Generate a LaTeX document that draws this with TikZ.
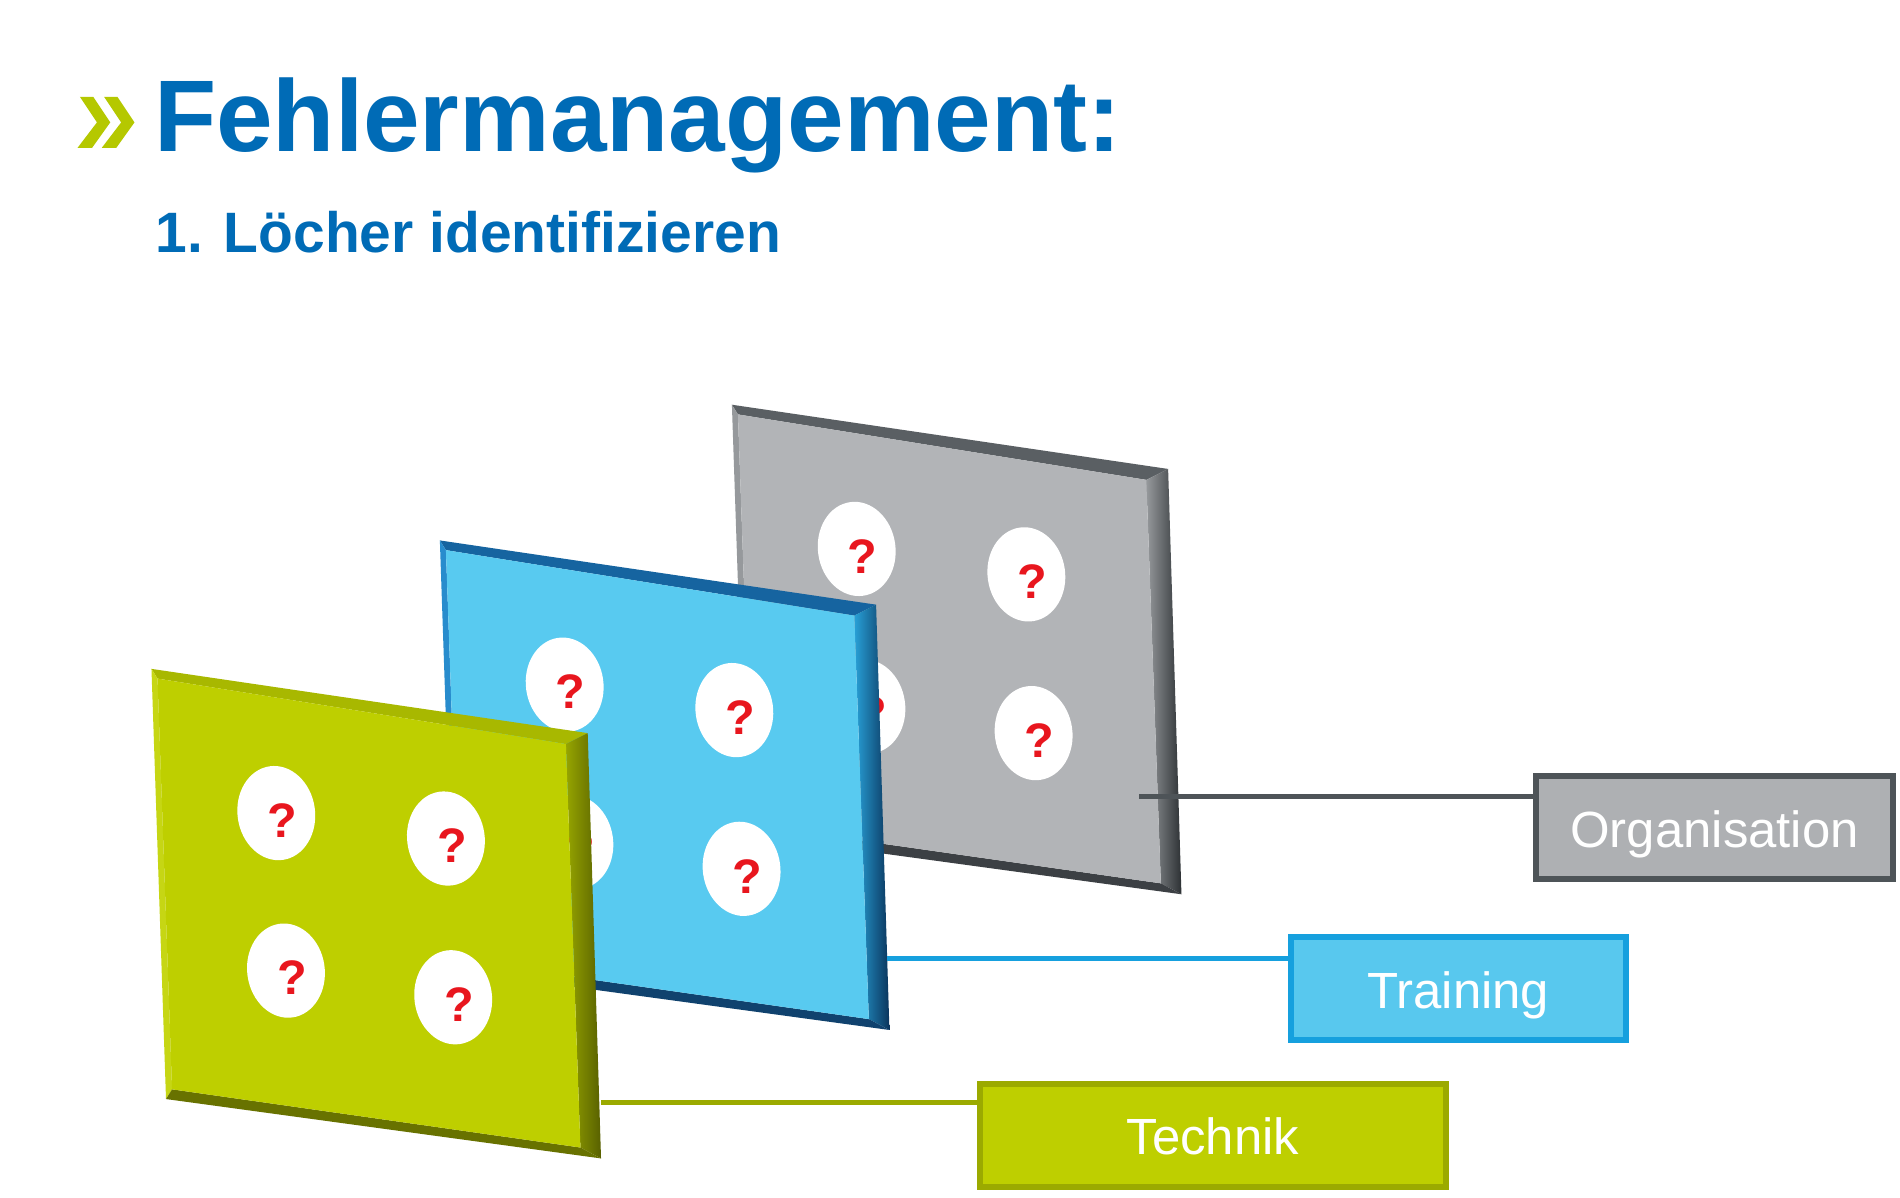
\documentclass[tikz,border=0pt]{standalone}
\usepackage{fontspec}
\setmainfont{Liberation Sans}
\definecolor{titleblue}{RGB}{0,107,182}
\definecolor{chevgreen}{RGB}{181,200,0}
\definecolor{qred}{RGB}{232,22,30}
% green panel
\definecolor{gr-face}{RGB}{190,207,0}
\definecolor{gr-top}{RGB}{168,184,0}
\definecolor{gr-left}{RGB}{198,214,20}
\definecolor{gr-rin}{RGB}{150,165,0}
\definecolor{gr-rout}{RGB}{88,96,0}
\definecolor{gr-bot}{RGB}{104,114,0}
% blue panel
\definecolor{bl-face}{RGB}{88,202,240}
\definecolor{bl-top}{RGB}{22,100,160}
\definecolor{bl-left}{RGB}{40,140,205}
\definecolor{bl-rin}{RGB}{40,160,215}
\definecolor{bl-rout}{RGB}{10,52,92}
\definecolor{bl-bot}{RGB}{16,66,110}
% gray panel
\definecolor{gy-face}{RGB}{178,180,183}
\definecolor{gy-top}{RGB}{90,95,99}
\definecolor{gy-left}{RGB}{150,153,156}
\definecolor{gy-rin}{RGB}{150,153,156}
\definecolor{gy-rout}{RGB}{45,49,52}
\definecolor{gy-bot}{RGB}{60,64,68}
% boxes and lines
\definecolor{orgfill}{RGB}{174,176,179}
\definecolor{orgdraw}{RGB}{78,84,88}
\definecolor{trfill}{RGB}{88,200,238}
\definecolor{trdraw}{RGB}{22,160,222}
\definecolor{tefill}{RGB}{190,207,0}
\definecolor{tedraw}{RGB}{155,170,0}

\tikzset{
  qm/.style={text=qred, font=\fontsize{40}{40}\selectfont\bfseries, inner sep=0pt},
  hole/.style={fill=white},
  lblbox/.style={text=white, font=\fontsize{42}{44}\selectfont, inner sep=0pt,
    line width=5pt, text height=32pt, text depth=0pt, minimum height=85pt},
  conn/.style={line width=4pt},
}

\newcommand{\ppanel}[3]{%
\begin{scope}[shift={(#2,#3)}]
  \fill[#1-top] (0,0) -- (360,53) -- (342,62) -- (5,8) -- cycle;
  \fill[#1-left] (0,0) -- (5,8) -- (17,347) -- (12,355) -- cycle;
  \shade[left color=#1-rin, right color=#1-rout] (360,53) -- (371,404) -- (354,395) -- (342,62) -- cycle;
  \fill[#1-bot] (12,355) -- (17,347) -- (354,395) -- (371,404) -- cycle;
  \fill[#1-face] (5,8) -- (342,62) -- (354,395) -- (17,347) -- cycle;
  \foreach \hx/\hy [count=\i] in {103/119, 243/140, 111/249, 249/271} {
    \fill[hole, rotate around={8:(\hx,\hy)}] (\hx,\hy) ellipse [x radius=32, y radius=39];
    \node[qm] (#1-q\i) at (\hx+5,\hy+6) {?};
  }
\end{scope}}

\begin{document}
\begin{tikzpicture}[x=1pt,y=-1pt]
\useasboundingbox (0,0) rectangle (1568,988);
\fill[white] (0,0) rectangle (1568,988);

% title
\fill[chevgreen] (66,80) -- (77,80) -- (91,101) -- (76,122) -- (64,122) -- (80,101) -- cycle;
\fill[chevgreen] (86,80) -- (97,80) -- (111,101) -- (96,122) -- (84,122) -- (100,101) -- cycle;
\node[anchor=base west, inner sep=0pt, text=titleblue, font=\fontsize{84}{90}\selectfont\bfseries] (title) at (127,125) {Fehlermanagement:};
\node[anchor=base west, inner sep=0pt, text=titleblue, font=\fontsize{47}{50}\selectfont\bfseries] (sub) at (128,208) {1. Löcher identifizieren};

% panels, back to front
\ppanel{gy}{604}{334}
\ppanel{bl}{363}{446}
\ppanel{gr}{125}{552}

% label boxes
\coordinate (orgstart) at (940,657);
\coordinate (trstart) at (732,791);
\coordinate (testart) at (496,910);

\node[lblbox, fill=orgfill, draw=orgdraw, minimum width=295pt] (org) at (1415,683) {Organisation};
\node[lblbox, fill=trfill, draw=trdraw, minimum width=276pt] (tr) at (1203.5,816) {Training};
\node[lblbox, fill=tefill, draw=tedraw, minimum width=385pt] (te) at (1001,937) {Technik};

\draw[conn, orgdraw] (orgstart) -- (orgstart -| org.west);
\draw[conn, trdraw] (trstart) -- (trstart -| tr.west);
\draw[conn, tedraw] (testart) -- (testart -| te.west);
\end{tikzpicture}
\end{document}
